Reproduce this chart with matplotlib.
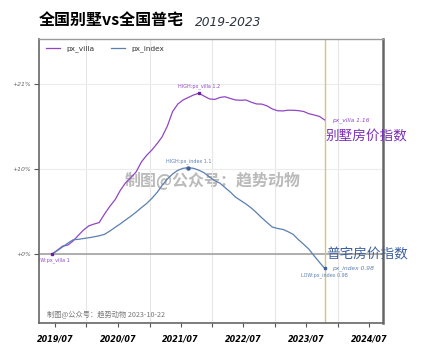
import matplotlib
matplotlib.use('Agg')
import matplotlib.pyplot as plt
import matplotlib.dates as mdates
from matplotlib.ticker import NullLocator, NullFormatter
import pandas as pd

plt.rcParams['font.family'] = ['DejaVu Sans', 'Noto Sans CJK SC']
plt.rcParams['axes.unicode_minus'] = False

# monthly index values, 2019-06 .. 2023-10 (base = 1)
dates = pd.date_range('2019-06-01', '2023-10-01', freq='MS') + pd.Timedelta(days=14)

px_villa = [1.0000, 1.0042, 1.0088, 1.0101, 1.0147, 1.0212, 1.0273, 1.0321, 1.0342, 1.0359,
            1.0459, 1.0547, 1.0627, 1.0738, 1.0831, 1.0894, 1.0963, 1.1087, 1.1168, 1.1237,
            1.1319, 1.1402, 1.1543, 1.1730, 1.1831, 1.1884, 1.1918, 1.1952, 1.1974, 1.1934,
            1.1898, 1.1891, 1.1918, 1.1927, 1.1904, 1.1884, 1.1880, 1.1884, 1.1854, 1.1831,
            1.1829, 1.1805, 1.1765, 1.1741, 1.1739, 1.1748, 1.1748, 1.1743, 1.1732, 1.1703,
            1.1686, 1.1667, 1.1621]

px_index = [1.0000, 1.0037, 1.0080, 1.0123, 1.0160, 1.0166, 1.0175, 1.0184, 1.0195, 1.0206,
            1.0223, 1.0260, 1.0303, 1.0343, 1.0389, 1.0433, 1.0480, 1.0533, 1.0582, 1.0644,
            1.0716, 1.0799, 1.0877, 1.0938, 1.0984, 1.1008, 1.1016, 1.1007, 1.0984, 1.0952,
            1.0902, 1.0856, 1.0825, 1.0774, 1.0720, 1.0659, 1.0617, 1.0577, 1.0529, 1.0473,
            1.0414, 1.0359, 1.0307, 1.0290, 1.0279, 1.0255, 1.0223, 1.0164, 1.0110, 1.0056,
            0.9980, 0.9908, 0.9841]

y_ticks = [1.0, 1.1, 1.21]
y_labels = ['+0%', '+10%', '+21%']

c_villa = '#9046c4'
c_index = '#5b7fb0'

s_villa = pd.Series(px_villa, index=dates)
s_index = pd.Series(px_index, index=dates)

fig = plt.figure(figsize=(4.21, 3.61), dpi=100)
ax = fig.add_axes([0.0926, 0.1053, 0.817, 0.787])

ax.plot(s_villa.index, s_villa.values, color=c_villa, lw=0.9, label='px_villa', zorder=3)
ax.plot(s_index.index, s_index.values, color=c_index, lw=0.9, label='px_index', zorder=3)

ax.set_yscale('log')
ax.set_ylim(0.9256, 1.2726)
ax.set_yticks(y_ticks)
ax.set_yticklabels(y_labels)
ax.yaxis.set_minor_locator(NullLocator())
ax.yaxis.set_minor_formatter(NullFormatter())
ax.set_xlim(pd.Timestamp('2019-03-31'), pd.Timestamp('2024-09-18'))

ax.xaxis.set_major_locator(mdates.MonthLocator(bymonth=7))
ax.xaxis.set_major_formatter(mdates.DateFormatter('%Y/%m'))
ax.xaxis.set_minor_locator(mdates.MonthLocator(bymonth=1))

ax.grid(which='minor', axis='x', color='#e6e6e6', lw=0.8)
ax.grid(which='major', axis='y', color='#ececec', lw=0.8)
ax.axhline(1.0, color='#a8a8a8', lw=1.3, zorder=2)
ax.axvline(dates[-1], color='#d9c27a', lw=1.0, zorder=2)

for lab in ax.get_xticklabels():
    lab.set_fontweight('bold')
    lab.set_fontstyle('italic')
ax.tick_params(axis='x', which='both', length=3, width=0.8, color='#555555',
               labelsize=5.8, pad=5, labelcolor='black')
ax.tick_params(axis='y', length=3.6, width=0.8, color='#555555', labelsize=4.4,
               labelcolor='#666666', pad=2)
for lab in ax.get_yticklabels():
    lab.set_fontstyle('italic')

ax.spines['left'].set_color('#666666')
ax.spines['left'].set_linewidth(1.2)
ax.spines['bottom'].set_color('#666666')
ax.spines['bottom'].set_linewidth(1.2)
ax.spines['top'].set_color('#9a9a9a')
ax.spines['top'].set_linewidth(1.0)
ax.spines['right'].set_color('#666666')
ax.spines['right'].set_linewidth(1.8)

leg = ax.legend(loc='upper left', ncol=2, frameon=False, fontsize=5.3,
                handlelength=2.0, columnspacing=2.2, borderaxespad=0.5)
for t in leg.get_texts():
    t.set_color('#333333')

# markers and annotations
i_vh = s_villa.values.argmax()
i_ih = s_index.values.argmax()
ax.plot(dates[i_vh], px_villa[i_vh], 's', color='#6a1f9e', ms=2, zorder=4)
ax.plot(dates[i_ih], px_index[i_ih], 'o', color='#3d5f9e', ms=2.2, zorder=4)
ax.plot(dates[0], px_villa[0], 's', color='#6a1f9e', ms=2, zorder=4)
ax.plot(dates[-1], px_index[-1], 's', color='#3d5f9e', ms=2, zorder=4)

ax.annotate('HIGH:px_villa %.1f' % px_villa[i_vh], (dates[i_vh], px_villa[i_vh]),
            xytext=(0, 4.8), textcoords='offset points', ha='center', va='center',
            fontsize=3.5, color=c_villa)
ax.annotate('HIGH:px_index %.1f' % px_index[i_ih], (dates[i_ih], px_index[i_ih]),
            xytext=(0, 4.8), textcoords='offset points', ha='center', va='center',
            fontsize=3.5, color=c_index)
ax.annotate('LOW:px_villa %g' % round(px_villa[0], 2), (dates[0], px_villa[0]),
            xytext=(0, -4.3), textcoords='offset points', ha='center', va='center',
            fontsize=3.5, color=c_villa, clip_on=True)
ax.annotate('LOW:px_index %.2f' % px_index[-1], (dates[-1], px_index[-1]),
            xytext=(0, -5), textcoords='offset points', ha='center', va='center',
            fontsize=3.5, color=c_index)
ax.annotate('px_villa %.2f' % px_villa[-1], (dates[-1], px_villa[-1]),
            xytext=(5, 0), textcoords='offset points', ha='left', va='center',
            fontsize=4.3, color=c_villa, style='italic', annotation_clip=False)
ax.annotate('px_index %.2f' % px_index[-1], (dates[-1], px_index[-1]),
            xytext=(5, 0), textcoords='offset points', ha='left', va='center',
            fontsize=4.3, color=c_index, style='italic', annotation_clip=False)

ax.annotate('别墅房价指数', (dates[-1], px_villa[-1]), xytext=(1, -12),
            textcoords='offset points', ha='left', va='center', fontsize=9.8,
            color='#7a2fb5', family=['Noto Sans CJK SC', 'DejaVu Sans'],
            annotation_clip=False)
ax.annotate('普宅房价指数', (dates[-1], px_index[-1]), xytext=(1.5, 10),
            textcoords='offset points', ha='left', va='center', fontsize=9.8,
            color='#3d5f9e', family=['Noto Sans CJK SC', 'DejaVu Sans'],
            annotation_clip=False)

# watermark and credit
ax.text(0.505, 0.5, '制图@公众号：趋势动物', transform=ax.transAxes, ha='center',
        va='center', fontsize=11.5, fontweight='bold', color='#8c8c8c', alpha=0.6,
        family=['Noto Sans CJK SC', 'DejaVu Sans'], zorder=1)
ax.text(0.023, 0.03, '制图@公众号：趋势动物 2023-10-22', transform=ax.transAxes,
        ha='left', va='center', fontsize=5.2, color='#777777', style='italic',
        family=['Noto Sans CJK SC', 'DejaVu Sans'])

fig.text(39 / 421, 1 - 20 / 361, '全国别墅vs全国普宅', ha='left', va='center',
         fontsize=11.5, fontweight='bold', color='black',
         family=['Noto Sans CJK SC', 'DejaVu Sans'])
fig.text(195 / 421, 1 - 22 / 361, '2019-2023', ha='left', va='center',
         fontsize=8.8, style='italic', color='#2b3340')

fig.savefig('out.png', dpi=100, facecolor='white')
